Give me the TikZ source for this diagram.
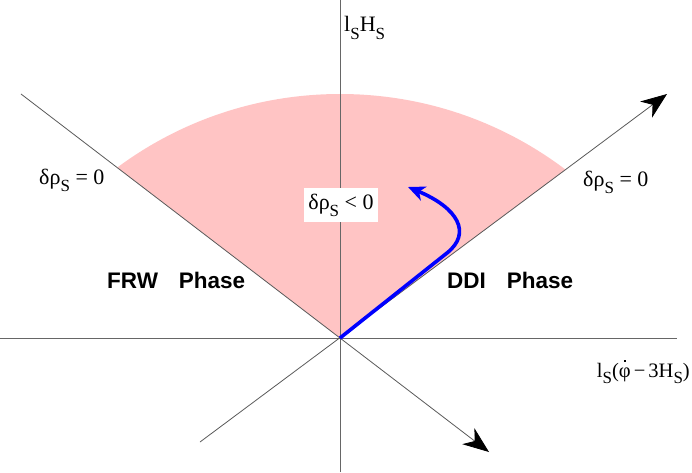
\documentclass[tikz,border=0pt]{standalone}
\usepackage{fontspec}
\setmainfont{Liberation Serif}
\setsansfont{Liberation Sans}
\usetikzlibrary{arrows.meta}
\newcommand\mysub[1]{\raisebox{-0.32em}{\fontsize{17}{17}\selectfont #1}}
\newcommand\phidot{\ooalign{φ\cr\hfil\raisebox{0.74em}{\rule{2.2pt}{2.2pt}}\hfil\cr}}
\begin{document}
\begin{tikzpicture}[x=1pt,y=1pt,
  axis/.style={draw=black!60,line width=0.8pt},
  diag/.style={draw=black!65,line width=0.8pt},
  bigtip/.style={-{Stealth[length=26pt,width=20pt,inset=8pt,color=black]}},
  lbl/.style={font=\fontsize{22}{22}\selectfont,inner sep=0pt},
  phase/.style={font=\sffamily\bfseries\fontsize{22.5}{22.5}\selectfont,inner sep=0pt}]
\useasboundingbox (0,0) rectangle (692,472);
\coordinate (O) at (340,134);
% pink sector
\begin{scope}
  \clip (340,4) circle (374);
  \fill[red!23!white] (O) -- (-138,500) -- (830,500) -- cycle;
\end{scope}
% axes
\coordinate (vtop) at (340,472);
\coordinate (vbot) at (340,0);
\coordinate (hl) at (0,134);
\coordinate (hr) at (677,134);
\draw[axis] (vbot) -- (vtop);
\draw[axis] (hl) -- (hr);
% diagonals
\coordinate (ls) at (21,378);
\coordinate (le) at (489,20);
\coordinate (rs) at (200,30);
\coordinate (re) at (667,378);
\draw[diag,bigtip] (ls) -- (le);
\draw[diag,bigtip] (rs) -- (re);
% blue trajectory
\coordinate (b1) at (447,219);
\coordinate (b2) at (408,285);
\draw[blue,line width=3.6pt,-{Stealth[length=17pt,width=15pt,inset=5pt]}]
  (O) -- (b1) .. controls (472,239) and (458,264) .. (b2);
% labels
\node[lbl,anchor=base west] (lsHs) at (344,440) {l\mysub{S}H\mysub{S}};
\node[lbl,anchor=base west] (dl) at (39,288) {δρ\mysub{S} = 0};
\node[lbl,anchor=base west] (dr) at (583,286) {δρ\mysub{S} = 0};
\node[lbl,fill=white,inner xsep=4pt,inner ysep=6pt,anchor=base] (dneg) at (341,263) {δρ\mysub{S} < 0};
\node[phase,anchor=base west] (frw) at (107,184) {FRW\hspace{0.93em}Phase};
\node[phase,anchor=base west] (ddi) at (447,184) {DDI\hspace{0.93em}Phase};
\node[lbl,font=\fontsize{20.5}{20.5}\selectfont,anchor=base east] (xl) at (690,95) {l\mysub{S}(\phidot\hspace{0.15em}−\hspace{0.15em}3H\mysub{S})};
\end{tikzpicture}
\end{document}
